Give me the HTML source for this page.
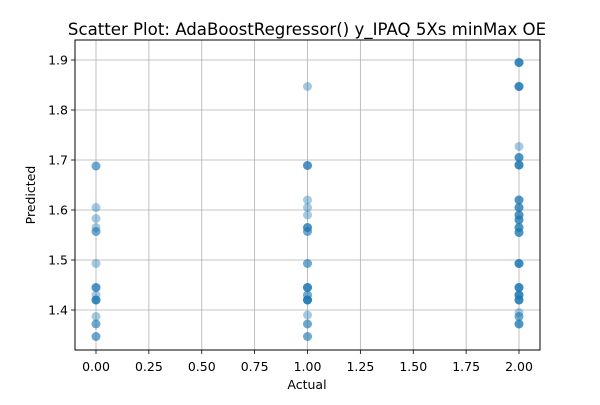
<!DOCTYPE html>
<html><head><meta charset="utf-8"><style>body{margin:0;background:#fff}svg{font-family:"DejaVu Sans","Liberation Sans",sans-serif}</style></head>
<body>
<svg id="c" width="600" height="400"></svg>
<script>
const actualValues = [0,0,0,0,0,0,0,0,0,0,0,0,0,0,0,0,0,0,0,0,0,
 1,1,1,1,1,1,1,1,1,1,
 1,1,1,1,1,1,1,1,1,1,
 1,1,1,1,1,1,1,1,1,1,
 2,2,2,2,2,2,2,2,2,2,
 2,2,2,2,2,2,2,2,2,2,
 2,2,2,2,2,2,2,2,2,2,
 2,2,2,2,2,2,2,2,2,2,
 2,2,2,2,2,2,2,2,2,2,
 2,2,2,2,2,2];
const predictedValues = [1.688,1.688,1.605,1.583,1.565,1.557,1.557,1.493,1.445,1.445,1.445,1.43,1.42,1.42,1.42,1.42,1.387,1.372,1.372,1.347,1.347,
 1.847,1.689,1.689,1.689,1.62,1.605,1.59,1.565,1.565,1.565,1.557,1.557,1.493,1.493,1.445,1.445,1.445,1.445,1.43,1.42,1.42,1.42,1.42,1.39,1.372,1.372,1.347,1.347,1.43,1.42,
 1.895,1.895,1.895,1.895,1.847,1.847,1.847,1.847,1.727,1.705,1.705,1.705,1.69,1.69,1.69,1.69,1.62,1.62,1.62,1.605,1.605,1.605,1.59,1.59,1.59,1.58,1.58,1.58,1.565,1.565,1.565,1.555,1.555,1.555,1.493,1.493,1.493,1.493,1.445,1.445,1.445,1.445,1.43,1.43,1.43,1.43,1.42,1.42,1.42,1.42,1.395,1.387,1.387,1.372,1.372,1.372];
const xTicks = [0,0.25,0.5,0.75,1,1.25,1.5,1.75,2];
const yTicks = [1.4,1.5,1.6,1.7,1.8,1.9];
const L=75,R=540,T=40,B=350;
const xs=v=>96+(v-0)*(519-96)/2;
const ys=v=>310-(v-1.4)*500;
const svg=document.getElementById('c');const NS='http://www.w3.org/2000/svg';
function mk(t,a,txt){const e=document.createElementNS(NS,t);for(const k in a)e.setAttribute(k,a[k]);if(txt!==undefined)e.textContent=txt;svg.appendChild(e);return e;}
let e;
e=mk('text',{x:307,y:35,'text-anchor':'middle','font-size':'16.6'},'Scatter Plot: AdaBoostRegressor() y_IPAQ 5Xs minMax OE');


xTicks.forEach(t=>{const x=xs(t);
 e=mk('line',{x1:x,x2:x,y1:T,y2:B,stroke:'#b0b0b0','stroke-width':0.8});
 
 
 mk('line',{x1:x,x2:x,y1:B,y2:B+4,stroke:'#000','stroke-width':0.8});
 e=mk('text',{x:x,y:B+21,'text-anchor':'middle','font-size':'12.5'},t.toFixed(2));
 
 
});
yTicks.forEach(t=>{const y=ys(t);
 e=mk('line',{x1:L,x2:R,y1:y,y2:y,stroke:'#b0b0b0','stroke-width':0.8});
 
 
 mk('line',{x1:L-4,x2:L,y1:y,y2:y,stroke:'#000','stroke-width':0.8});
 e=mk('text',{x:L-7,y:y+4.5,'text-anchor':'end','font-size':'12.5'},t.toFixed(1));
 
 
});
actualValues.forEach((a,i)=>{
 e=mk('circle',{cx:xs(a),cy:ys(predictedValues[i]),r:4.5,fill:'#1f77b4','fill-opacity':0.4});
 
 
});
e=mk('rect',{x:L,y:T,width:R-L,height:B-T,fill:'none',stroke:'#000','stroke-width':1});


e=mk('text',{x:307,y:389,'text-anchor':'middle','font-size':'12.5'},'Actual');


e=mk('text',{x:35,y:195,'text-anchor':'middle','font-size':'12.5',transform:'rotate(-90 35 195)'},'Predicted');


</script>
</body></html>
